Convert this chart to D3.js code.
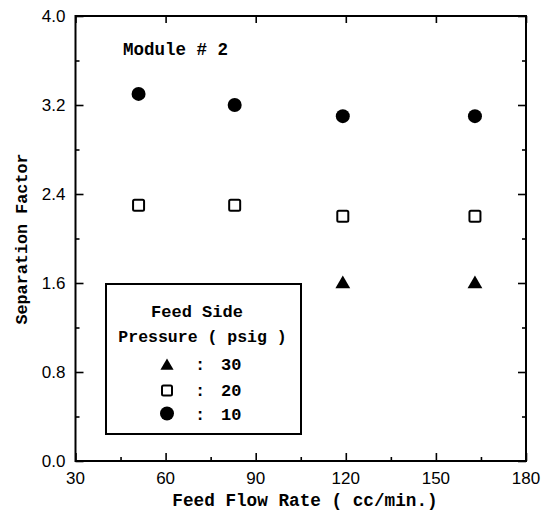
<!DOCTYPE html>
<html>
<head>
<meta charset="utf-8">
<script src="https://cdn.jsdelivr.net/npm/d3@7"></script>
<style>
  html, body { margin: 0; padding: 0; background: #fff; }
  svg { display: block; }
</style>
</head>
<body>
<svg id="chart" width="545" height="517"></svg>
<script>
// ---- data ----
const flowRates = [51, 83, 119, 163];
const sep10 = [3.3, 3.2, 3.1, 3.1];
const sep20 = [2.3, 2.3, 2.2, 2.2];
const flowRates30 = [119, 163];
const sep30 = [1.6, 1.6];
const xTicks = [30, 60, 90, 120, 150, 180];
const xMinorTicks = [45, 75, 105, 135, 165];
const yTicks = [0.0, 0.8, 1.6, 2.4, 3.2, 4.0];
const yMinorTicks = [0.4, 1.2, 2.0, 2.8, 3.6];
const legendLabels = ["30", "20", "10"];

(function () {
const svg = d3.select("#chart");
const pL = 75.5, pR = 526, pT = 16, pB = 461;
const x = d3.scaleLinear().domain([30, 180]).range([pL, pR]);
const y = d3.scaleLinear().domain([0, 4]).range([pB, pT]);

const mono = "'Liberation Mono', 'Courier New', monospace";
const sans = "'Liberation Sans', Arial, sans-serif";

// frame
svg.append("rect").attr("x", pL).attr("y", pT)
  .attr("width", pR - pL).attr("height", pB - pT)
  .attr("fill", "none").attr("stroke", "#000").attr("stroke-width", 2);

// axes with inward ticks
const gB = svg.append("g").attr("transform", `translate(0,${pB})`)
  .call(d3.axisTop(x).tickValues(xTicks).tickSize(8).tickFormat(""));
const gBm = svg.append("g").attr("transform", `translate(0,${pB})`)
  .call(d3.axisTop(x).tickValues(xMinorTicks).tickSize(4).tickFormat(""));
const gT = svg.append("g").attr("transform", `translate(0,${pT})`)
  .call(d3.axisBottom(x).tickValues(xTicks).tickSize(7).tickFormat(""));
const gL = svg.append("g").attr("transform", `translate(${pL},0)`)
  .call(d3.axisRight(y).tickValues(yTicks).tickSize(8).tickFormat(""));
const gLm = svg.append("g").attr("transform", `translate(${pL},0)`)
  .call(d3.axisRight(y).tickValues(yMinorTicks).tickSize(4).tickFormat(""));
const gR = svg.append("g").attr("transform", `translate(${pR},0)`)
  .call(d3.axisLeft(y).tickValues(yTicks).tickSize(8).tickFormat(""));
const gRm = svg.append("g").attr("transform", `translate(${pR},0)`)
  .call(d3.axisLeft(y).tickValues(yMinorTicks).tickSize(4).tickFormat(""));
[gB, gBm, gT, gL, gLm, gR, gRm].forEach(g => {
  g.select(".domain").remove();
  g.selectAll(".tick line").attr("stroke", "#000").attr("stroke-width", 1.6);
});

// tick labels
svg.append("g").selectAll("text").data(xTicks).join("text")
  .attr("x", d => x(d)).attr("y", pB + 22.5)
  .attr("text-anchor", "middle").attr("font-family", sans).attr("font-size", 17)
  .text(d => d);
svg.append("g").selectAll("text").data(yTicks).join("text")
  .attr("x", pL - 10).attr("y", d => y(d) + 6)
  .attr("text-anchor", "end").attr("font-family", sans).attr("font-size", 17)
  .text(d => d.toFixed(1));

// axis titles
svg.append("text").attr("x", 305).attr("y", 506)
  .attr("text-anchor", "middle").attr("font-family", mono).attr("font-weight", "bold")
  .attr("font-size", 17.7).text("Feed Flow Rate ( cc/min.)");
svg.append("text").attr("transform", `translate(26.5,239) rotate(-90)`)
  .attr("text-anchor", "middle").attr("font-family", mono).attr("font-weight", "bold")
  .attr("font-size", 16.8).text("Separation Factor");

// annotation
svg.append("text").attr("x", 123).attr("y", 55)
  .attr("font-family", mono).attr("font-weight", "bold").attr("font-size", 17.5)
  .text("Module # 2");

// markers
const tri = d3.symbol().type(d3.symbolTriangle).size(95);
svg.append("g").selectAll("circle").data(flowRates).join("circle")
  .attr("cx", d => x(d)).attr("cy", (d, i) => y(sep10[i])).attr("r", 7).attr("fill", "#000");
svg.append("g").selectAll("rect").data(flowRates).join("rect")
  .attr("x", d => x(d) - 5.5).attr("y", (d, i) => y(sep20[i]) - 5.5)
  .attr("width", 11).attr("height", 11).attr("rx", 1.5)
  .attr("fill", "#fff").attr("stroke", "#000").attr("stroke-width", 2);
svg.append("g").selectAll("path").data(flowRates30).join("path")
  .attr("d", tri).attr("transform", (d, i) => `translate(${x(d)},${y(sep30[i]) + 1})`)
  .attr("fill", "#000");

// legend
const lg = svg.append("g");
lg.append("rect").attr("x", 106).attr("y", 284).attr("width", 195).attr("height", 150)
  .attr("fill", "#fff").attr("stroke", "#000").attr("stroke-width", 2);
lg.append("text").attr("x", 197).attr("y", 317).attr("text-anchor", "middle")
  .attr("font-family", mono).attr("font-weight", "bold").attr("font-size", 17)
  .text("Feed Side");
lg.append("text").attr("x", 202.5).attr("y", 342).attr("text-anchor", "middle")
  .attr("font-family", mono).attr("font-weight", "bold").attr("font-size", 16.5)
  .text("Pressure ( psig )");
const rowY = [370, 396, 420];
lg.append("path").attr("d", d3.symbol().type(d3.symbolTriangle).size(75))
  .attr("transform", `translate(167,${rowY[0] - 4})`).attr("fill", "#000");
lg.append("rect").attr("x", 162).attr("y", rowY[1] - 10.5).attr("width", 10).attr("height", 10)
  .attr("rx", 1.5).attr("fill", "#fff").attr("stroke", "#000").attr("stroke-width", 2);
lg.append("circle").attr("cx", 167).attr("cy", rowY[2] - 6.5).attr("r", 7).attr("fill", "#000");
lg.selectAll("text.colon").data(legendLabels).join("text").attr("class", "colon")
  .attr("x", 200).attr("y", (d, i) => rowY[i]).attr("text-anchor", "middle")
  .attr("font-family", mono).attr("font-weight", "bold").attr("font-size", 17).text(":");
lg.selectAll("text.lab").data(legendLabels).join("text").attr("class", "lab")
  .attr("x", 221).attr("y", (d, i) => rowY[i])
  .attr("font-family", mono).attr("font-weight", "bold").attr("font-size", 17).text(d => d);
})();
</script>
</body>
</html>
